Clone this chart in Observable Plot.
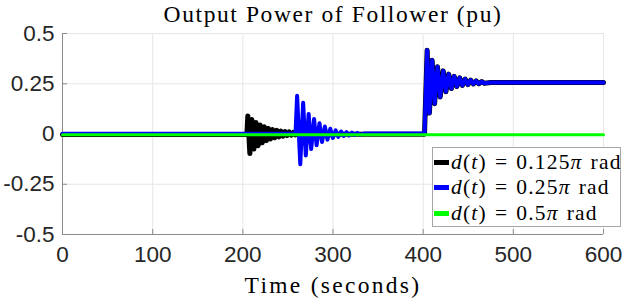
<!DOCTYPE html>
<html><head><meta charset="utf-8">
<script src="https://cdn.jsdelivr.net/npm/d3@7"></script>
<script src="https://cdn.jsdelivr.net/npm/@observablehq/plot@0.6"></script>
<style>
body{margin:0;background:#fff}
#wrap{position:relative;width:623px;height:301px}
.legend{position:absolute;left:432px;top:147px;width:189px;height:80px;border:1px solid #a6a6a6;background:#fff;box-sizing:border-box;font-family:"Liberation Serif",serif;font-size:21.5px;letter-spacing:1.2px;color:#000}
.row{position:absolute;left:0;height:26px;display:flex;align-items:center;white-space:nowrap}
.sw{width:15px;height:5px;margin-left:1px;margin-right:2px}
.sp{display:inline-block;width:8px}
</style>
</head><body>
<div id="wrap"></div>
<script>
const title = "Output Power of Follower (pu)";
const xLabel = "Time (seconds)";
const xTicks = [0,100,200,300,400,500,600];
const xTickLabels = ["0","100","200","300","400","500","600"];
const yTicks = [-0.5,-0.25,0,0.25,0.5];
const yTickLabels = ["-0.5","-0.25","0","0.25","0.5"];
const seriesNames = ["0.125π","0.25π","0.5π"];
const seriesColors = ["#000000","#0000ff","#00ff00"];

// d(t) = 0.125π : disturbance response around t = 205 s
const blackT = [0,204.5,205.5,207.8,210,212.3,214.6,216.9,219.2,221.5,223.8,226.1,228.4,230.7,233,235.3,237.6,239.9,242.2,244.5,246.8,249.1,251.4,253.7,256,258.3,260.6,264,401.5];
const blackP = [-0.002,-0.002,0.09,-0.097,0.072,-0.075,0.057,-0.058,0.045,-0.044,0.036,-0.033,0.028,-0.025,0.022,-0.019,0.018,-0.014,0.014,-0.011,0.012,-0.008,0.010,-0.006,0.008,-0.004,0.006,-0.001,-0.001];
// d(t) = 0.25π : disturbance response around t = 258 s
const blueT = [0,258.4,260.2,263.7,266.9,269.8,273,275.8,279,281.8,285,287.8,291,293.8,297,299.8,303,305.8,309,311.8,315,317.8,321,323.8,327,329.8,334,401.5];
const blueP = [0.001,0.001,0.19,-0.15,0.155,-0.107,0.10,-0.075,0.075,-0.056,0.053,-0.04,0.037,-0.028,0.026,-0.02,0.018,-0.014,0.012,-0.01,0.009,-0.007,0.007,-0.005,0.005,-0.003,0.002,0.002];
// step in load at t = 400 s (shared by the 0.125π and 0.25π cases)
const stepT = [404.4,406.9,409.9,412.7,415.9,418.9,422.2,425.2,428.3,431.3,434.4,437.4,440.5,443.5,446.6,449.6,452.7,455.7,458.8,461.8,465,468,475,600];
const stepP = [0.417,0.104,0.367,0.151,0.334,0.184,0.314,0.21,0.298,0.226,0.287,0.236,0.279,0.242,0.273,0.246,0.268,0.249,0.264,0.25,0.261,0.252,0.256,0.256];
// d(t) = 0.5π
const greenT = [0,600];
const greenP = [-0.004,-0.004];

const rows = (T,P) => T.map((t,i)=>({t, p:P[i]}));
const black = rows(blackT,blackP).concat(rows(stepT,stepP));
const blue = rows(blueT,blueP).concat(rows(stepT,stepP));
const green = rows(greenT,greenP);

const tickLen = 5;
const plot = Plot.plot({
  width:623, height:301,
  marginLeft:62, marginRight:20, marginTop:33, marginBottom:67,
  style:{background:"#fff", overflow:"visible"},
  x:{domain:[0,600]},
  y:{domain:[-0.5,0.5]},
  marks:[
    Plot.ruleX(xTicks,{stroke:"#e6e6e6", strokeWidth:1}),
    Plot.ruleY(yTicks,{stroke:"#e6e6e6", strokeWidth:1}),
    Plot.ruleX(xTicks,{y1:yTicks[0], y2:yTicks[0], insetTop:-tickLen, stroke:"#8c8c8c"}),
    Plot.ruleY(yTicks,{x1:xTicks[0], x2:xTicks[0], insetRight:-tickLen, stroke:"#8c8c8c"}),
    Plot.ruleX([xTicks[0]],{stroke:"#8c8c8c"}),
    Plot.ruleY([yTicks[0]],{stroke:"#8c8c8c"}),
    Plot.axisX(xTicks,{tickSize:0, tickPadding:12, tickFormat:(d,i)=>xTickLabels[i], fontSize:22.5, fontFamily:"Liberation Sans", fill:"#262626", label:null}),
    Plot.axisY(yTicks,{tickSize:0, tickPadding:8, tickFormat:(d,i)=>yTickLabels[i], fontSize:22.5, fontFamily:"Liberation Sans", fill:"#262626", label:null}),
    Plot.line(black,{x:"t", y:"p", stroke:seriesColors[0], strokeWidth:5, strokeLinejoin:"round"}),
    Plot.line(blue,{x:"t", y:"p", stroke:seriesColors[1], strokeWidth:4, strokeLinejoin:"round"}),
    Plot.line(green,{x:"t", y:"p", stroke:seriesColors[2], strokeWidth:3}),
    Plot.text([title],{frameAnchor:"top", dy:-12, lineAnchor:"bottom", fontSize:23.5, fontFamily:"Liberation Serif", fill:"#000"}),
    Plot.text([xLabel],{frameAnchor:"bottom", dy:58, lineAnchor:"bottom", fontSize:23.5, fontFamily:"Liberation Serif", fill:"#000"})
  ]
});
plot.querySelectorAll("text").forEach(t=>{
  if (t.textContent === title) t.style.letterSpacing = "1.6px";
  if (t.textContent === xLabel) t.style.letterSpacing = "2.3px";
});
const wrap = document.getElementById("wrap");
wrap.appendChild(plot);
const leg = document.createElement("div");
leg.className = "legend";
seriesNames.forEach((n,i)=>{
  const r = document.createElement("div");
  r.className = "row";
  r.style.top = (1 + i*25.5) + "px";
  r.innerHTML = `<span class="sw" style="background:${seriesColors[i]}"></span><i>d</i>(<i>t</i>)<span class="sp"></span>=<span class="sp"></span>${n.replace("π","<i>π</i>")}<span class="sp"></span>rad`;
  leg.appendChild(r);
});
wrap.appendChild(leg);
</script>
</body></html>
